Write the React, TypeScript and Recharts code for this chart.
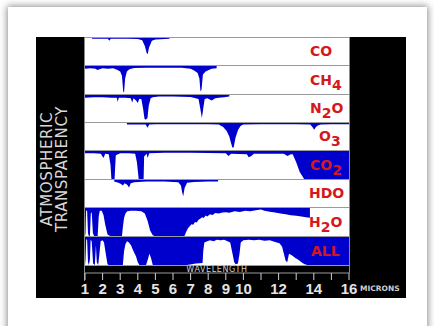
import React from 'react';
import { AreaChart, Area, XAxis, YAxis, ComposedChart, Line } from 'recharts';

// absorption (0 = clear, 1 = opaque), per gas, by wavelength in microns
const coWave = [1.4, 2.3, 2.38, 2.46, 3.4, 4.0, 4.25, 4.4, 4.5, 4.56, 4.64, 4.8, 5.0, 5.8];
const coAbs = [0.03, 0.03, 0.1, 0.03, 0.03, 0.04, 0.08, 0.3, 0.55, 0.6, 0.35, 0.1, 0.06, 0.03];

const ch4Wave = [1.0, 1.3, 1.6, 1.7, 2.0, 2.3, 2.6, 2.85, 3.0, 3.1, 3.17, 3.22, 3.28, 3.38, 3.52, 3.8, 4.5, 5.5, 6.5, 7.0, 7.2, 7.4, 7.5, 7.56, 7.62, 7.7, 7.85, 8.0, 8.2, 8.48];
const ch4Abs = [0.1, 0.08, 0.1, 0.14, 0.08, 0.1, 0.08, 0.14, 0.2, 0.35, 0.9, 0.95, 0.45, 0.2, 0.12, 0.07, 0.06, 0.06, 0.06, 0.1, 0.16, 0.25, 0.45, 0.9, 0.85, 0.3, 0.2, 0.15, 0.1, 0.08];

const n2oWave = [1.0, 1.5, 2.0, 2.5, 2.8, 2.86, 2.92, 3.3, 3.6, 3.68, 3.76, 3.9, 4.0, 4.08, 4.2, 4.3, 4.38, 4.45, 4.55, 4.62, 4.73, 4.85, 5.2, 6.0, 7.0, 7.45, 7.55, 7.64, 7.72, 7.8, 7.95, 8.2, 8.4, 8.6, 8.9, 9.2];
const n2oAbs = [0.1, 0.08, 0.08, 0.1, 0.1, 0.25, 0.1, 0.1, 0.12, 0.28, 0.12, 0.2, 0.3, 0.15, 0.15, 0.5, 0.88, 0.92, 0.85, 0.4, 0.12, 0.08, 0.06, 0.06, 0.07, 0.15, 0.5, 0.85, 0.5, 0.15, 0.12, 0.2, 0.12, 0.1, 0.08, 0.06];

const o3Wave = [3.38, 4.0, 4.45, 4.55, 4.65, 5.0, 6.0, 7.0, 8.0, 8.6, 8.85, 9.05, 9.2, 9.3, 9.38, 9.45, 9.55, 9.7, 9.85, 10.0, 11.0, 12.0, 13.0, 13.8, 13.92, 14.02, 14.12, 14.25, 14.4, 15.0, 16.0];
const o3Abs = [0.06, 0.06, 0.06, 0.18, 0.06, 0.05, 0.05, 0.05, 0.05, 0.06, 0.15, 0.3, 0.5, 0.75, 0.92, 0.9, 0.55, 0.25, 0.1, 0.06, 0.05, 0.05, 0.05, 0.06, 0.15, 0.25, 0.15, 0.08, 0.06, 0.05, 0.05];

const co2Wave = [1.0, 1.5, 1.9, 2.05, 2.15, 2.35, 2.45, 2.5, 2.68, 2.75, 3.0, 3.5, 3.85, 3.95, 4.05, 4.33, 4.36, 4.5, 4.56, 4.65, 5.5, 7.0, 9.0, 9.15, 9.3, 10.2, 10.3, 10.45, 10.6, 12.3, 12.5, 12.7, 12.8, 13.0, 13.2, 13.45, 16.0];
const co2Abs = [0.08, 0.08, 0.1, 0.25, 0.1, 0.12, 0.5, 1.0, 1.0, 0.15, 0.08, 0.08, 0.1, 0.4, 1.0, 1.0, 0.2, 0.1, 0.25, 0.08, 0.06, 0.06, 0.08, 0.18, 0.1, 0.12, 0.22, 0.18, 0.1, 0.1, 0.18, 0.12, 0.12, 0.4, 0.75, 1.0, 1.0];

const hdoWave = [2.66, 2.9, 3.05, 3.15, 3.25, 3.4, 3.5, 3.6, 3.8, 4.5, 5.5, 6.3, 6.45, 6.52, 6.58, 6.66, 6.8, 7.2, 8.0, 8.56];
const hdoAbs = [0.06, 0.1, 0.15, 0.2, 0.12, 0.18, 0.28, 0.12, 0.08, 0.06, 0.06, 0.08, 0.2, 0.45, 0.6, 0.3, 0.1, 0.07, 0.06, 0.06];

const h2oWave = [1.0, 1.03, 1.06, 1.12, 1.17, 1.22, 1.28, 1.33, 1.38, 1.45, 1.52, 1.72, 1.78, 1.84, 1.95, 2.05, 2.15, 2.28, 2.43, 3.1, 3.15, 3.22, 3.3, 3.4, 3.6, 3.9, 4.2, 4.4, 4.55, 4.7, 4.85, 4.95, 6.65, 6.75, 6.85, 6.95, 7.05, 7.15, 7.25, 7.35, 7.45, 7.55, 7.65, 7.75, 7.85, 7.95, 8.1, 8.25, 8.4, 8.6, 8.8, 9.0, 9.2, 9.5, 9.8, 10.1, 10.4, 10.7, 11.0, 11.2, 11.5, 11.8, 12.1, 12.4, 12.7, 13.0, 13.3, 13.55, 13.78];
const h2oAbs = [1.0, 0.9, 0.1, 0.1, 0.9, 1.0, 1.0, 0.2, 0.15, 0.9, 1.0, 1.0, 0.3, 0.1, 0.1, 0.25, 0.6, 0.95, 1.0, 1.0, 0.7, 0.35, 0.2, 0.12, 0.1, 0.1, 0.12, 0.2, 0.45, 0.8, 0.97, 1.0, 1.0, 0.85, 0.72, 0.65, 0.58, 0.6, 0.5, 0.52, 0.42, 0.38, 0.33, 0.36, 0.27, 0.3, 0.22, 0.25, 0.18, 0.2, 0.16, 0.15, 0.17, 0.12, 0.14, 0.1, 0.12, 0.08, 0.05, 0.1, 0.13, 0.16, 0.2, 0.22, 0.26, 0.28, 0.3, 0.33, 0.35];

const allWave = [1.0, 1.03, 1.07, 1.12, 1.17, 1.22, 1.28, 1.32, 1.38, 1.46, 1.56, 1.62, 1.67, 1.75, 1.82, 1.89, 2.0, 2.08, 2.18, 2.28, 2.35, 3.15, 3.22, 3.3, 3.39, 3.5, 3.62, 3.75, 3.9, 4.0, 4.09, 4.47, 4.57, 4.66, 4.75, 4.85, 6.8, 7.3, 7.68, 7.72, 7.78, 7.95, 8.1, 8.3, 8.5, 8.7, 8.9, 9.1, 9.25, 9.35, 9.48, 9.56, 9.69, 9.78, 9.85, 10.0, 10.3, 10.6, 10.9, 11.2, 11.5, 11.8, 12.05, 12.2, 12.3, 12.4, 12.49, 12.59, 12.75, 12.95, 13.1, 13.3, 13.45, 13.63, 16.0];
const allAbs = [1.0, 0.8, 0.08, 0.1, 0.9, 1.0, 0.8, 0.1, 0.15, 0.95, 1.0, 0.3, 0.9, 1.0, 0.6, 0.15, 0.12, 0.2, 0.6, 0.97, 1.0, 1.0, 0.5, 0.25, 0.15, 0.2, 0.3, 0.5, 0.7, 0.9, 1.0, 1.0, 0.8, 0.6, 0.75, 1.0, 1.0, 0.95, 0.93, 0.5, 0.2, 0.15, 0.12, 0.15, 0.1, 0.12, 0.1, 0.15, 0.2, 0.5, 0.9, 0.97, 0.95, 0.6, 0.2, 0.12, 0.1, 0.12, 0.1, 0.13, 0.12, 0.18, 0.22, 0.35, 0.6, 0.85, 0.9, 0.6, 0.65, 0.75, 0.8, 0.9, 0.96, 1.0, 1.0];

const tickValues = [1, 2, 3, 4, 5, 6, 7, 8, 9, 10, 11, 12, 13, 14, 15, 16];
const tickLabels = [1, 2, 3, 4, 5, 6, 7, 8, 9, 10, 12, 14, 16];

const BLUE = '#0000cc';
const stripTops = [37, 65, 94, 122, 150, 179, 207, 236, 265];

const gases = [
  { wave: coWave, abs: coAbs, name: 'CO', sub: '', tail: '', lx: 310 },
  { wave: ch4Wave, abs: ch4Abs, name: 'CH', sub: '4', tail: '', lx: 310 },
  { wave: n2oWave, abs: n2oAbs, name: 'N', sub: '2', tail: 'O', lx: 310 },
  { wave: o3Wave, abs: o3Abs, name: 'O', sub: '3', tail: '', lx: 319 },
  { wave: co2Wave, abs: co2Abs, name: 'CO', sub: '2', tail: '', lx: 310 },
  { wave: hdoWave, abs: hdoAbs, name: 'HDO', sub: '', tail: '', lx: 309 },
  { wave: h2oWave, abs: h2oAbs, name: 'H', sub: '2', tail: 'O', lx: 309 },
  { wave: allWave, abs: allAbs, name: 'ALL', sub: '', tail: '', lx: 311 },
];

const labelFont: React.CSSProperties = {
  fontFamily: 'DejaVu Sans',
  fontWeight: 'bold',
  fontSize: 14,
  lineHeight: '14px',
  color: '#d4181c',
};

function Strip({ wave, abs, top, height }: { wave: number[]; abs: number[]; top: number; height: number }) {
  const data = wave.map((w, i) => ({ w, a: abs[i] }));
  return (
    <div
      style={{
        position: 'absolute',
        left: 85,
        top,
        width: 264,
        height,
        background: '#fff',
        borderTop: '1px solid #9a9a9a',
        boxSizing: 'border-box',
      }}
    >
      <AreaChart width={264} height={height - 1} data={data} margin={{ top: 0, right: 0, bottom: 0, left: 0 }}>
        <XAxis type="number" dataKey="w" domain={[1, 16]} hide allowDataOverflow />
        <YAxis type="number" domain={[0, 1]} reversed hide />
        <Area type="linear" dataKey="a" stroke="none" fill={BLUE} fillOpacity={1} isAnimationActive={false} />
      </AreaChart>
    </div>
  );
}

export default function App() {
  const axisData = allWave.map((w, i) => ({ w, a: allAbs[i] }));

  return (
    <div style={{ position: 'absolute', left: 0, top: 0, width: 434, height: 326, background: '#fff', overflow: 'hidden' }}>
      {/* card */}
      <div
        style={{
          position: 'absolute',
          left: 8,
          top: 7,
          width: 419,
          height: 340,
          background: '#fff',
          boxShadow: '0 0 7px 1px rgba(0,0,0,0.45)',
        }}
      />
      {/* black panel */}
      <div style={{ position: 'absolute', left: 36, top: 37, width: 370, height: 261, background: '#000' }} />

      {gases.map((g, i) => (
        <Strip key={i} wave={g.wave} abs={g.abs} top={stripTops[i]} height={stripTops[i + 1] - stripTops[i]} />
      ))}

      {/* plot frame */}
      <div style={{ position: 'absolute', left: 84, top: 37, width: 1, height: 244, background: '#8a8a8a' }} />
      <div style={{ position: 'absolute', left: 349, top: 37, width: 1, height: 236, background: '#8a8a8a' }} />
      <div style={{ position: 'absolute', left: 85, top: 265, width: 264, height: 1, background: '#9a9a9a' }} />

      {gases.map((g, i) => {
        const c = (stripTops[i] + stripTops[i + 1]) / 2;
        return (
          <div key={'l' + i} style={{ ...labelFont, position: 'absolute', left: g.lx, top: c - 7, whiteSpace: 'nowrap' }}>
            {g.name}
            {g.sub && <span style={{ position: 'relative', top: 5 }}>{g.sub}</span>}
            {g.tail}
          </div>
        );
      })}

      {/* wavelength bar label */}
      <div
        style={{
          position: 'absolute',
          left: 85,
          top: 265,
          width: 264,
          height: 8,
          lineHeight: '9px',
          textAlign: 'center',
          fontFamily: 'DejaVu Sans',
          fontSize: 8,
          letterSpacing: 0.6,
          color: '#cfcfcf',
        }}
      >
        WAVELENGTH
      </div>

      {/* x axis */}
      <div style={{ position: 'absolute', left: 70, top: 265 }}>
        <ComposedChart width={294} height={35} data={axisData} margin={{ top: 0, right: 15, bottom: 0, left: 15 }}>
          <XAxis
            type="number"
            dataKey="w"
            domain={[1, 16]}
            ticks={tickValues}
            interval={0}
            height={27}
            axisLine={{ stroke: '#9a9a9a' }}
            tickLine={{ stroke: '#d0d0d0' }}
            tickSize={7}
            tickMargin={3}
            tick={{ fill: '#e4e4e4', fontSize: 15, fontWeight: 'bold', fontFamily: 'Liberation Sans' }}
            tickFormatter={(v: number) => (tickLabels.includes(v) ? String(v) : '')}
          />
          <YAxis type="number" domain={[0, 1]} hide />
          <Line dataKey="a" stroke="none" dot={false} isAnimationActive={false} />
        </ComposedChart>
      </div>

      <div
        style={{
          position: 'absolute',
          left: 360,
          top: 285,
          fontFamily: 'DejaVu Sans',
          fontWeight: 'bold',
          fontSize: 7.5,
          lineHeight: '8px',
          color: '#cfcfcf',
        }}
      >
        MICRONS
      </div>

      {/* y title */}
      <div
        style={{
          position: 'absolute',
          left: 55 - 75,
          top: 169 - 15,
          width: 150,
          height: 30,
          transform: 'rotate(-90deg)',
          transformOrigin: 'center',
          textAlign: 'center',
          fontFamily: 'DejaVu Sans',
          fontSize: 15,
          lineHeight: '15px',
          letterSpacing: 0.6,
          color: '#d8d8d8',
          whiteSpace: 'nowrap',
        }}
      >
        ATMOSPHERIC
        <br />
        TRANSPARENCY
      </div>
    </div>
  );
}
